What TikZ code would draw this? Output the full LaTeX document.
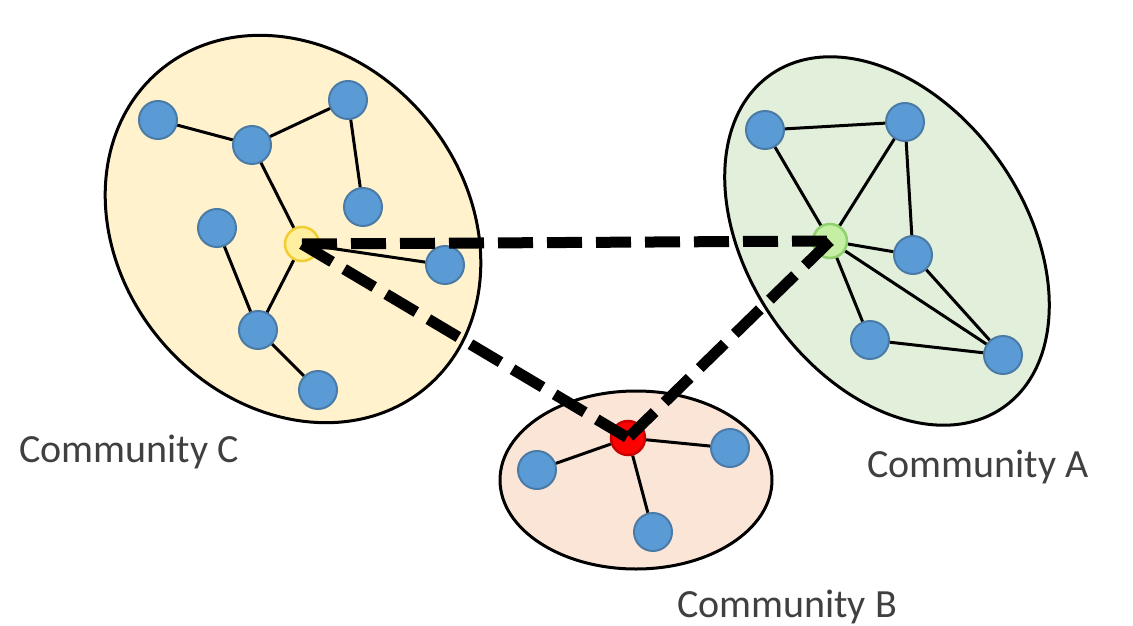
\documentclass[tikz,border=0pt]{standalone}
\usepackage{fontspec}
\setmainfont{Carlito}
\usetikzlibrary{shapes.geometric}
\definecolor{nodeblue}{HTML}{5B9BD5}
\definecolor{nodeedge}{HTML}{4A7AA6}
\definecolor{cfill}{HTML}{FFF2CC}
\definecolor{afill}{HTML}{E2EFDA}
\definecolor{bfill}{HTML}{FBE5D6}
\definecolor{labelgray}{HTML}{404040}
\definecolor{yhubfill}{HTML}{FFF0A0}
\definecolor{yhubedge}{HTML}{F2CC30}
\definecolor{ghubfill}{HTML}{C6EFA6}
\definecolor{ghubedge}{HTML}{8FD16A}
\begin{document}
\begin{tikzpicture}[x=1pt,y=-1pt,
 comm/.style={draw=black, line width=3pt, ellipse, inner sep=0pt},
 vert/.style={circle, fill=nodeblue, draw=nodeedge, line width=2pt, minimum size=38pt, inner sep=0pt},
 hub/.style={circle, line width=2.5pt, minimum size=34pt, inner sep=0pt},
 link/.style={line width=3pt, black},
 bridge/.style={line width=11pt, black, dash pattern=on 35pt off 14pt},
 lbl/.style={text=labelgray, font=\fontsize{40}{48}\selectfont, anchor=base}]
\useasboundingbox (0,0) rectangle (1133,626);
\fill[white] (0,0) rectangle (1133,626);

% communities
\node[comm, fill=cfill, minimum width=414pt, minimum height=346pt, rotate=-50] (CC) at (293,229) {};
\node[comm, fill=afill, minimum width=406pt, minimum height=276pt, rotate=-55] (CA) at (887,241) {};
\node[comm, fill=bfill, minimum width=272pt, minimum height=178pt] (CB) at (636,480) {};

% community C nodes
\node[vert] (c1) at (158,120) {};
\node[vert] (c2) at (252,145) {};
\node[vert] (c3) at (348,100) {};
\node[vert] (c4) at (363,207) {};
\node[vert] (c5) at (217,228) {};
\node[vert] (c6) at (445,265) {};
\node[vert] (c7) at (258,330) {};
\node[vert] (c8) at (318,390) {};
\node[hub, fill=yhubfill, draw=yhubedge] (Y) at (302,244) {};

% community A nodes
\node[vert] (a1) at (765,130) {};
\node[vert] (a2) at (905,122) {};
\node[vert] (a3) at (913,255) {};
\node[vert] (a4) at (870,340) {};
\node[vert] (a5) at (1003,355) {};
\node[hub, fill=ghubfill, draw=ghubedge] (G) at (830,241) {};

% community B nodes
\node[vert] (b1) at (537,470) {};
\node[vert] (b2) at (730,448) {};
\node[vert] (b3) at (653,532) {};
\node[hub, fill=red, draw=red!80!black] (R) at (628,438) {};

% edges
\draw[link] (c1) -- (c2);
\draw[link] (c2) -- (c3);
\draw[link] (c3) -- (c4);
\draw[link] (c2) -- (Y);
\draw[link] (c5) -- (c7);
\draw[link] (Y) -- (c7);
\draw[link] (c7) -- (c8);
\draw[link] (Y) -- (c6);
\draw[link] (a1) -- (a2);
\draw[link] (a1) -- (G);
\draw[link] (a2) -- (G);
\draw[link] (a2) -- (a3);
\draw[link] (G) -- (a3);
\draw[link] (G) -- (a4);
\draw[link] (G) -- (a5);
\draw[link] (a3) -- (a5);
\draw[link] (a4) -- (a5);
\draw[link] (R) -- (b1);
\draw[link] (R) -- (b2);
\draw[link] (R) -- (b3);

% bridges between hubs
\draw[bridge] (Y.center) -- (G.center);
\draw[bridge] (Y.center) -- (R.center);
\draw[bridge] (G.center) -- (R.center);

% labels
\node[lbl] (LC) at (129,462) {Community C};
\node[lbl] (LA) at (978,477) {Community A};
\node[lbl] (LB) at (787,617) {Community B};
\end{tikzpicture}
\end{document}
